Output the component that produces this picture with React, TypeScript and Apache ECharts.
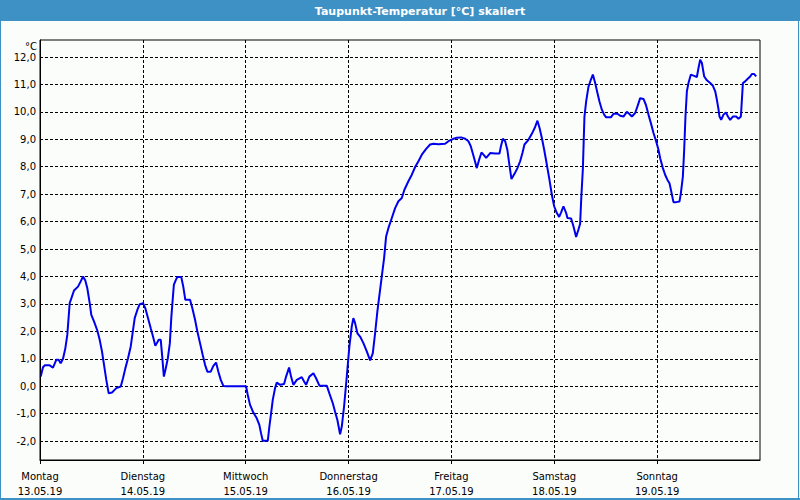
import React, { useEffect, useRef } from "react";
import * as echarts from "echarts";

const TITLE = "Taupunkt-Temperatur [°C] skaliert";
const UNIT = "°C";
const dayNames = ["Montag", "Dienstag", "Mittwoch", "Donnerstag", "Freitag", "Samstag", "Sonntag"];
const dayDates = ["13.05.19", "14.05.19", "15.05.19", "16.05.19", "17.05.19", "18.05.19", "19.05.19"];
const yTicks = [-2, -1, 0, 1, 2, 3, 4, 5, 6, 7, 8, 9, 10, 11, 12];
const xTicks = [0, 24, 48, 72, 96, 120, 144];

// hours since Monday 13.05.19 00:00
const hours = [
  0.16, 0.7, 1.1, 2.26, 3.03, 3.8, 4.36, 4.83, 5.37, 5.91, 6.37, 6.93, 7.31, 7.94, 8.87, 9.5, 10.04, 10.57, 11.04, 11.6,
  11.97, 12.6, 13.37, 13.93, 14.47, 14.94, 15.47, 16.03, 16.8, 17.81, 18.84, 19.37, 19.91, 20.54, 21.17, 21.71, 22.1, 22.71, 23.27, 24.04,
  24.58, 25.21, 25.84, 26.37, 26.91, 27.7, 28.17, 28.52, 28.9, 29.3, 29.83, 30.3, 30.63, 30.93, 31.24, 31.63, 32.03, 32.96, 33.43, 33.91,
  35.01, 35.55, 36.18, 36.71, 37.34, 37.97, 38.51, 39.05, 39.84, 40.45, 41.08, 41.62, 42.18, 42.78, 43.58, 48.08, 48.48, 49.01, 49.78, 50.58,
  51.18, 51.58, 51.98, 53.15, 53.52, 53.92, 54.31, 54.85, 55.25, 56.02, 56.95, 57.42, 58.12, 58.58, 59.12, 59.92, 61.08, 61.62, 62.08, 62.85,
  63.79, 64.42, 65.19, 66.91, 67.52, 68.32, 68.85, 69.39, 70.02, 70.42, 70.95, 71.58, 72.19, 72.75, 73.12, 73.52, 74.06, 74.69, 75.46, 76.25,
  77.02, 77.65, 78.19, 78.72, 79.36, 79.75, 80.29, 80.76, 81.29, 82.09, 82.86, 83.63, 84.42, 85.03, 85.96, 86.76, 87.53, 88.3, 89.09, 90.1,
  91.03, 91.8, 92.97, 94.53, 95.3, 96.33, 97.26, 98.27, 99.2, 99.97, 100.53, 101.14, 101.93, 102.47, 103.01, 103.48, 104.11, 105.04, 106.21, 107.21,
  107.54, 108.0, 108.54, 109.07, 109.54, 110.01, 110.75, 111.4, 112.03, 112.57, 113.04, 113.97, 114.76, 115.53, 116.07, 116.58, 117.1, 117.63, 118.26, 118.87,
  119.43, 119.97, 120.6, 121.13, 121.6, 122.14, 122.77, 123.07, 123.93, 124.47, 125.1, 125.64, 126.03, 126.31, 126.66, 126.85, 127.04, 127.44, 127.97, 128.53,
  129.0, 129.54, 130.07, 130.54, 131.1, 131.64, 132.1, 133.2, 133.81, 134.74, 135.37, 136.14, 136.93, 137.54, 138.1, 138.87, 139.41, 140.04, 140.81, 141.37,
  141.98, 142.54, 143.15, 143.78, 144.31, 144.71, 145.34, 145.88, 146.41, 146.88, 147.21, 147.81, 148.44, 149.21, 149.54, 150.0, 150.31, 150.61, 150.94, 151.31,
  151.87, 152.48, 153.27, 153.65, 154.04, 154.44, 154.98, 155.61, 156.38, 157.01, 157.55, 157.94, 158.31, 158.55, 158.94, 159.48, 160.04, 160.51, 161.04, 161.67,
  162.44, 162.98, 163.54, 164.01, 164.54, 165.08, 165.71, 166.1, 166.64, 167.11,
];

const dewPoint = [
  0.35, 0.69, 0.76, 0.76, 0.68, 0.96, 0.96, 0.84, 1.0, 1.38, 1.87, 3.03, 3.2, 3.49, 3.63, 3.82, 4.0, 3.85, 3.57, 3.03,
  2.6, 2.36, 2.03, 1.69, 1.26, 0.78, 0.23, -0.26, -0.23, -0.07, -0.01, 0.29, 0.65, 1.02, 1.45, 2.05, 2.48, 2.78, 2.99, 3.03,
  2.84, 2.48, 2.11, 1.81, 1.47, 1.69, 1.69, 1.08, 0.35, 0.62, 1.02, 1.57, 2.48, 3.09, 3.7, 3.85, 3.98, 3.98, 3.63, 3.15,
  3.15, 2.84, 2.42, 2.0, 1.57, 1.14, 0.78, 0.53, 0.53, 0.74, 0.86, 0.53, 0.23, 0.01, 0.0, 0.0, -0.32, -0.68, -0.96, -1.17,
  -1.41, -1.72, -1.99, -1.99, -1.47, -0.99, -0.5, -0.07, 0.13, 0.05, 0.08, 0.35, 0.68, 0.35, 0.05, 0.23, 0.33, 0.17, 0.05, 0.35,
  0.47, 0.29, 0.02, 0.02, -0.26, -0.62, -0.93, -1.23, -1.75, -1.47, -0.74, 0.35, 1.45, 2.18, 2.48, 2.3, 1.93, 1.81, 1.57, 1.27,
  0.94, 1.2, 1.93, 2.73, 3.52, 4.0, 4.67, 5.46, 5.76, 6.13, 6.49, 6.74, 6.86, 7.16, 7.47, 7.71, 7.99, 8.2, 8.44, 8.65,
  8.81, 8.84, 8.82, 8.84, 8.93, 9.01, 9.06, 9.07, 9.02, 8.93, 8.74, 8.4, 7.95, 8.26, 8.52, 8.44, 8.32, 8.5, 8.48, 8.48,
  8.74, 9.02, 8.93, 8.6, 8.05, 7.55, 7.75, 7.95, 8.2, 8.5, 8.81, 8.98, 9.2, 9.45, 9.68, 9.4, 9.05, 8.63, 8.08, 7.53,
  6.98, 6.56, 6.31, 6.17, 6.34, 6.56, 6.31, 6.13, 6.11, 5.83, 5.44, 5.71, 5.92, 6.91, 7.89, 8.86, 9.83, 10.38, 10.91, 11.17,
  11.36, 11.05, 10.69, 10.38, 10.08, 9.9, 9.8, 9.8, 9.93, 9.93, 9.86, 9.83, 10.0, 9.92, 9.83, 9.96, 10.2, 10.5, 10.47, 10.26,
  9.9, 9.59, 9.23, 8.92, 8.62, 8.31, 7.95, 7.7, 7.52, 7.4, 7.16, 6.71, 6.71, 6.73, 7.04, 7.64, 8.62, 9.83, 10.75, 11.05,
  11.36, 11.32, 11.27, 11.6, 11.9, 11.78, 11.29, 11.15, 11.05, 10.95, 10.75, 10.44, 10.1, 9.83, 9.71, 9.9, 9.98, 9.83, 9.71, 9.83,
  9.83, 9.75, 9.83, 11.05, 11.11, 11.2, 11.29, 11.38, 11.38, 11.29,
];

const FONT = "DejaVu Sans";
const FRAME = "#3d91c5";

export default function App() {
  const ref = useRef<HTMLDivElement>(null);
  useEffect(() => {
    if (!ref.current) return;
    const chart = echarts.init(ref.current, undefined, { renderer: "svg" });
    const data = hours.map((h, i) => [h, dewPoint[i]]);
    chart.setOption({
      animation: false,
      backgroundColor: "#fbfdfb",
      textStyle: { fontFamily: FONT },
      grid: { left: 40, right: 40, top: 40, bottom: 40, show: false },
      graphic: [
        { type: "rect", shape: { x: 0, y: 0, width: 800, height: 21 }, style: { fill: FRAME } },
        { type: "rect", shape: { x: 0.5, y: 0.5, width: 798, height: 498 }, style: { fill: "none", stroke: FRAME, lineWidth: 1 } },
        { type: "rect", shape: { x: 0, y: 498, width: 800, height: 2 }, style: { fill: FRAME } },
        {
          type: "text", x: 420, y: 11,
          style: { text: TITLE, fill: "#ffffff", font: `bold 11px ${FONT}`, textAlign: "center", textVerticalAlign: "middle" },
        },
        {
          type: "text", x: 37, y: 46,
          style: { text: UNIT, fill: "#000", font: `10px ${FONT}`, textAlign: "right", textVerticalAlign: "middle" },
        },
        { type: "rect", shape: { x: 40, y: 40, width: 720, height: 420 }, style: { fill: "none", stroke: "#000", lineWidth: 1 }, z: 10 },
      ],
      xAxis: {
        type: "value",
        min: 0,
        max: 168,
        interval: 24,
        axisLine: { show: true, onZero: false, lineStyle: { color: "#000", width: 1 } },
        axisTick: { show: true, length: 4, lineStyle: { color: "#000" }, customValues: xTicks },
        splitLine: { show: true, lineStyle: { color: "#000", width: 1, type: [3, 2] } },
        axisLabel: {
          customValues: xTicks,
          color: "#000",
          fontFamily: FONT,
          fontSize: 10,
          lineHeight: 15,
          margin: 9,
          formatter: (v: number) => {
            const i = Math.round(v / 24);
            return i < dayNames.length ? `${dayNames[i]}\n${dayDates[i]}` : "";
          },
        },
      },
      yAxis: {
        type: "value",
        min: -2.69,
        max: 12.62,
        axisLine: { show: true, onZero: false, lineStyle: { color: "#000", width: 1 } },
        axisTick: { show: false, customValues: yTicks },
        splitLine: { show: true, lineStyle: { color: "#000", width: 1, type: [3, 2] } },
        axisLabel: {
          customValues: yTicks,
          color: "#000",
          fontFamily: FONT,
          fontSize: 10,
          margin: 4,
          formatter: (v: number) => v.toFixed(1).replace(".", ","),
        },
      },
      series: [
        {
          type: "line",
          data,
          showSymbol: false,
          symbol: "none",
          lineStyle: { color: "#0000ee", width: 2 },
          z: 5,
        },
      ],
    });
    return () => chart.dispose();
  }, []);
  return (
    <div
      ref={ref}
      style={{ position: "fixed", left: 0, top: 0, width: 800, height: 500 }}
    />
  );
}
